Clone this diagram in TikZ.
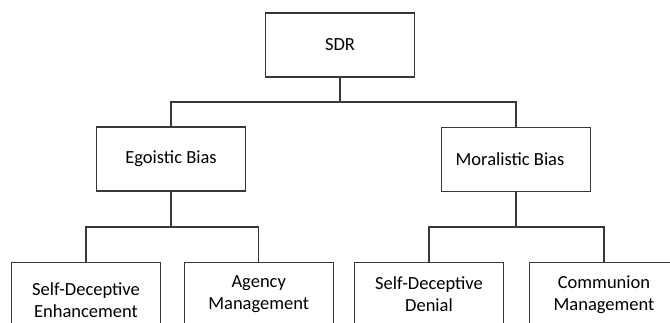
\documentclass[tikz,border=0pt]{standalone}
\usepackage{fontspec}
\setmainfont{Carlito}
\usepackage{tikz}
\definecolor{boxline}{rgb}{0.22, 0.22, 0.22}
\tikzstyle{biasbox}=[draw=boxline, line width=1.1pt, fill=white, minimum width=149pt, minimum height=64pt, inner sep=0pt, align=center, font=\fontsize{18.5}{22}\selectfont]
\tikzstyle{link}=[draw=boxline, line width=1.1pt]

\begin{document}
\begin{tikzpicture}[x=1pt,y=-1pt]
\useasboundingbox (0,0) rectangle (670,322);
\clip (0,0) rectangle (670,322);
\node[biasbox] (sdr) at (340,45) {SDR};
\node[biasbox] (ego) at (171,159) {Egoistic Bias};
\node[biasbox] (mor) at (516,159.5) {Moralistic Bias\hspace*{12pt}};
\node[biasbox] (sde) at (86,294.5) {\rule{0pt}{24pt}Self-Deceptive\\Enhancement};
\node[biasbox] (agency) at (258.7,294.5) {Agency\\Management};
\node[biasbox] (sdd) at (429,294.5) {Self-Deceptive\\Denial};
\node[biasbox] (comm) at (604,294.5) {Communion\\Management};
\coordinate (tophub) at (340,102);
\coordinate (egohub) at (171,227);
\coordinate (morhub) at (516,227);
\draw[link] (sdr) -- (tophub);
\draw[link] (ego.north) |- (tophub) -| (mor.north);
\draw[link] (ego) -- (egohub);
\draw[link] (sde.north) |- (egohub) -| (agency.north);
\draw[link] (mor) -- (morhub);
\draw[link] (sdd.north) |- (morhub) -| (comm.north);
\end{tikzpicture}
\end{document}
